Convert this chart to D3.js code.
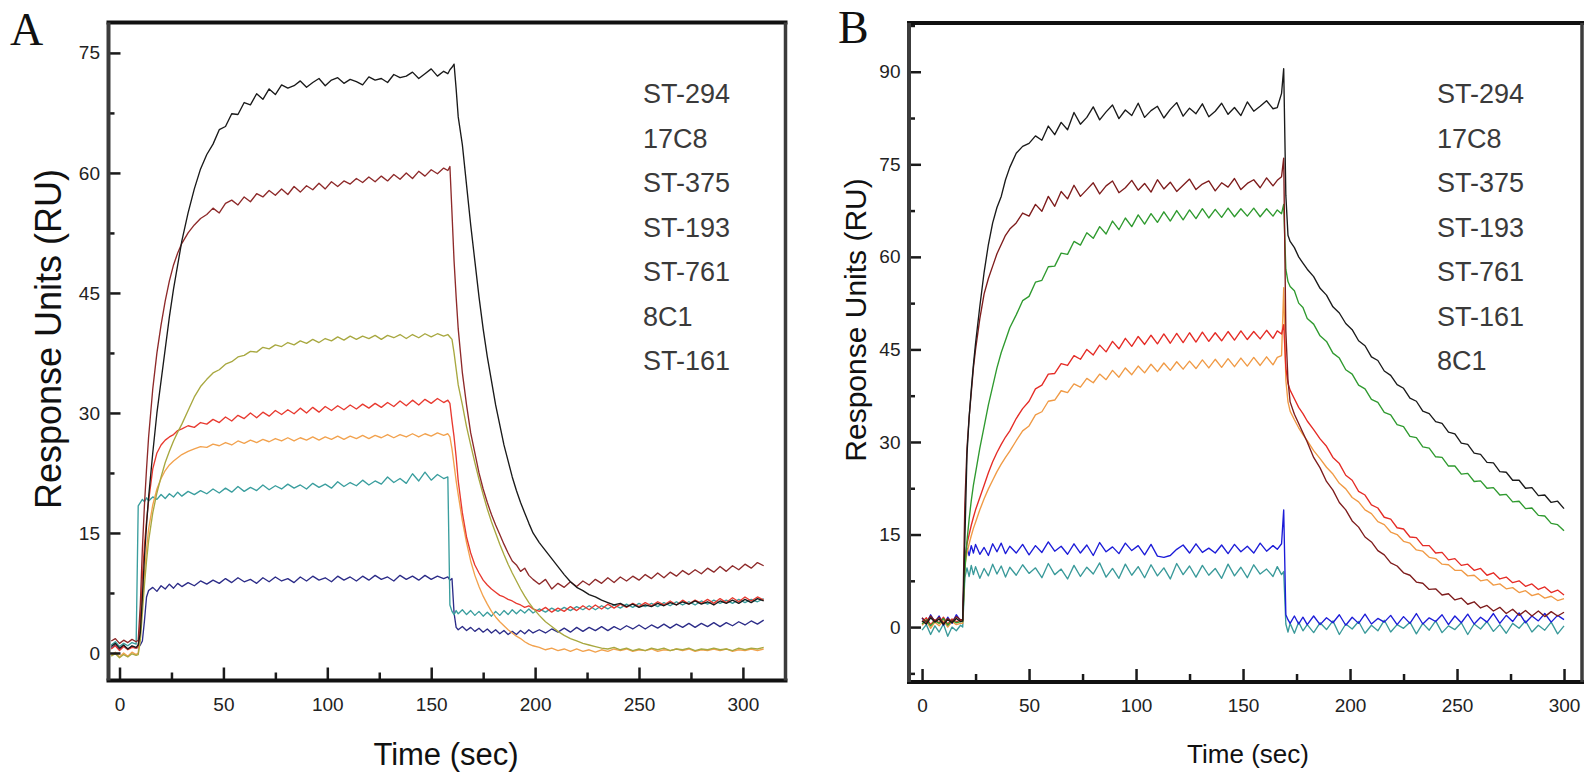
<!DOCTYPE html>
<html>
<head>
<meta charset="utf-8">
<script src="https://cdn.jsdelivr.net/npm/d3@7"></script>
<style>
body{margin:0;background:#fff;}
svg text{font-family:"Liberation Sans",Arial,sans-serif;}
</style>
</head>
<body>
<svg id="fig" width="1584" height="772"></svg>
<script>
// ---- panel A : sensorgram values ----
var timeA = [-4,-2,0,2,4,6,8,
  9,10,11,12,13,14,16,18,20,22,24,26,28,30,33,36,39,
  42,45,48,51,54,57,60,63,66,69,72,75,78,81,84,87,90,93,96,99,102,105,108,111,114,117,120,123,126,129,132,135,138,141,144,147,150,153,156,
  158,159,160,161,162,163,165,167,169,171,173,175,177,179,181,183,185,187,189,191,193,195,197,199,
  202,205,208,211,214,217,220,223,226,229,232,235,238,241,244,247,250,253,256,259,262,265,268,271,274,277,280,283,286,289,292,295,298,301,304,307,310];

var st294A = [0.8,1.2,0.6,1.0,0.5,0.9,0.7,
  1.0,2.5,7,12,16,19.5,25,30,34,38,42,45.5,48.5,51.5,55,58,60.5,
  62.3,63.6,65.4,65.8,67.4,67.3,68.8,68.5,69.9,69.2,70.5,69.8,71.0,70.6,70.9,71.5,70.7,71.3,71.8,70.9,71.6,71.9,71.2,71.7,71.4,71.0,72.0,71.6,71.8,71.3,72.3,71.9,72.1,72.6,71.8,72.4,73.0,72.1,72.7,
  72.4,72.9,73.2,73.6,70.5,67,63.5,58.5,53.5,49,44.5,40.5,37,34,31,28.5,26,24,22,20.3,18.8,17.5,16.2,15,
  13.8,12.8,11.8,10.8,9.8,8.9,8.2,7.8,7.3,7.0,6.6,6.3,6.0,6.2,5.8,6.1,5.7,6.0,5.8,6.2,5.9,6.3,6.0,6.4,6.1,6.5,6.1,6.4,6.0,6.5,6.2,6.6,6.2,6.7,6.3,6.8,6.5];

var c17c8A = [1.5,1.8,1.2,1.6,1.3,1.7,1.4,
  1.6,6,13,18.5,23,27,33,37.5,41,44,46.5,48.5,50,51.2,52.5,53.5,54.3,
  54.8,55.6,55.0,56.2,56.6,56.0,57.0,56.4,57.4,57.0,57.8,57.2,58.0,57.3,58.3,57.6,58.4,57.9,58.7,58.0,58.9,58.3,59.0,58.6,59.3,58.8,59.5,58.9,59.6,59.0,59.8,59.2,60.0,59.3,60.2,59.6,60.4,59.9,60.6,
  60.3,60.8,55,49,44.5,40.5,35,31,27.5,25,22.5,20.5,18.8,17.3,16,14.8,13.6,12.5,11.5,11.0,10.2,10.6,9.7,9.2,
  8.6,9.2,8.0,8.7,8.2,8.9,8.3,9.0,8.5,9.2,8.7,9.4,8.8,9.5,9.0,9.6,9.1,9.8,9.3,10.0,9.4,10.1,9.6,10.3,9.8,10.4,9.9,10.6,10.1,10.8,10.2,10.9,10.4,11.1,10.6,11.3,10.9];

var st375A = [-0.4,-0.1,-0.6,-0.2,-0.5,-0.1,-0.3,
  -0.2,1.5,5,8.5,11.5,14,17.5,20,22,23.8,25.2,26.5,27.6,28.6,30.3,32,33.3,
  34.2,35.0,35.4,36.1,36.4,37.0,37.2,37.7,37.6,38.2,38.0,38.5,38.3,38.8,38.5,39.0,38.7,39.2,38.8,39.3,39.0,39.5,39.1,39.6,39.2,39.6,39.3,39.7,39.2,39.7,39.4,39.8,39.3,39.8,39.4,39.9,39.5,39.9,39.6,
  39.8,39.5,39.2,37.5,35.5,33.5,31,28.3,26,23.8,21.7,19.8,18,16.4,15,13.6,12.3,11.1,10,9,8,7.1,6.3,5.6,
  4.7,3.9,3.3,2.7,2.2,1.8,1.5,1.2,1.0,0.8,0.6,0.5,0.7,0.4,0.6,0.3,0.5,0.3,0.6,0.4,0.6,0.3,0.5,0.4,0.6,0.3,0.5,0.4,0.6,0.4,0.5,0.3,0.6,0.4,0.6,0.5,0.7];

var st193A = [0.5,0.9,0.3,0.8,0.4,0.7,0.6,
  0.8,4,9.5,13.5,16.5,19,23,25,26,26.6,27,27.3,27.8,28.0,28.4,28.2,28.8,
  28.6,29.2,28.8,29.5,29.0,29.7,29.3,30.0,29.4,30.1,29.6,30.3,29.8,30.4,29.9,30.6,30.0,30.7,30.1,30.8,30.3,30.9,30.4,31.0,30.5,31.1,30.6,31.2,30.7,31.3,30.8,31.5,30.9,31.6,31.0,31.7,31.2,31.8,31.3,
  31.6,31.2,29,27,24.5,21.5,17.5,14.5,12.5,11,10,9.1,8.5,8.0,7.6,7.2,7.0,6.7,6.5,6.2,6.0,5.7,5.9,5.5,
  5.2,5.7,5.1,5.6,5.2,5.8,5.3,5.9,5.4,6.0,5.5,6.1,5.6,6.1,5.7,6.2,5.8,6.3,5.9,6.4,6.0,6.5,6.0,6.6,6.1,6.6,6.2,6.7,6.2,6.8,6.3,6.9,6.4,7.0,6.5,7.0,6.6];

var st761A = [-0.3,0.1,-0.5,0.0,-0.4,0.1,-0.2,
  0.0,2.5,6.5,10,13,15.5,18.5,20.5,21.8,22.8,23.5,24.0,24.4,24.8,25.2,25.5,25.8,
  25.7,26.1,25.9,26.3,26.0,26.5,26.2,26.6,26.3,26.7,26.4,26.8,26.5,26.9,26.5,26.9,26.6,27.0,26.6,27.0,26.7,27.1,26.7,27.1,26.8,27.2,26.8,27.2,26.9,27.3,26.9,27.3,27.0,27.4,27.0,27.4,27.1,27.5,27.2,
  27.4,27.0,25.5,23.5,21.5,19.8,16.5,13.8,11.5,9.7,8.3,7.1,6.1,5.2,4.5,3.9,3.4,2.9,2.5,2.1,1.8,1.4,1.1,0.9,
  0.7,0.4,0.6,0.3,0.5,0.2,0.5,0.2,0.4,0.1,0.4,0.2,0.5,0.3,0.5,0.2,0.4,0.3,0.5,0.2,0.4,0.3,0.5,0.3,0.5,0.2,0.4,0.3,0.5,0.3,0.5,0.2,0.4,0.3,0.5,0.3,0.5];

var c8c1A = [1.0,1.4,0.8,1.2,0.9,1.3,1.1,
  18.4,18.8,19.2,18.9,19.4,19.0,19.5,19.2,19.8,19.3,19.9,19.5,20.1,19.6,20.2,19.8,20.3,
  19.9,20.5,20.0,20.6,20.1,20.8,20.2,20.7,20.3,21.0,20.4,20.9,20.5,21.1,20.6,21.0,20.5,21.2,20.7,21.1,20.6,21.4,20.8,21.3,20.9,21.6,21.0,21.5,21.1,22.0,21.3,21.8,21.2,22.4,21.5,22.6,21.6,22.3,21.8,
  22.0,6,5.2,4.8,5.3,4.9,5.4,4.8,5.3,4.7,5.2,4.6,5.1,4.6,5.2,4.7,5.3,4.8,5.4,4.9,5.4,5.0,5.5,5.0,
  5.5,5.1,5.6,5.2,5.7,5.3,5.8,5.4,5.9,5.4,5.9,5.5,6.0,5.6,6.1,5.7,6.2,5.8,6.2,5.8,6.3,5.9,6.4,6.0,6.4,6.0,6.5,6.1,6.6,6.2,6.6,6.2,6.7,6.3,6.7,6.4,6.8];

var st161A = [0.6,1.0,0.4,0.9,0.5,0.8,0.6,
  0.7,1.0,1.5,4,7,7.8,8.2,7.7,8.4,8.0,8.6,8.1,8.7,8.3,8.8,8.4,9.0,
  8.6,9.1,8.7,9.3,8.8,9.4,8.9,9.2,8.7,9.4,8.9,9.5,9.0,9.3,8.8,9.5,9.0,9.6,9.1,9.4,8.9,9.6,9.1,9.5,9.0,9.6,9.1,9.7,9.2,9.5,9.0,9.7,9.2,9.6,9.1,9.7,9.2,9.6,9.3,
  9.5,9.1,9.3,5,3.2,2.9,3.3,2.8,3.2,2.7,3.1,2.6,3.0,2.5,2.9,2.4,2.8,2.3,2.7,2.3,2.8,2.4,2.9,2.5,
  2.9,2.5,3.0,2.6,3.1,2.6,3.2,2.7,3.2,2.8,3.3,2.8,3.3,2.9,3.4,3.0,3.5,3.0,3.5,3.1,3.6,3.1,3.6,3.2,3.7,3.2,3.7,3.3,3.8,3.3,3.8,3.4,3.9,3.5,4.0,3.6,4.1];

// ---- panel B ----
var timeB = [0,2,4,6,8,10,12,14,16,18,
  19,20,21,22,23,24,25,27,29,31,33,35,37,39,41,
  44,47,50,53,56,59,62,65,68,71,74,77,80,83,86,89,92,95,98,101,104,107,110,113,116,119,122,125,128,131,134,137,140,143,146,149,152,155,158,161,164,
  166,168,169,170,171,172,174,176,178,180,
  183,186,189,192,195,198,201,204,207,210,213,216,219,222,225,228,231,234,237,240,243,246,249,252,255,258,261,264,267,270,273,276,279,282,285,288,291,294,297,300];

var st294B = [1.0,0.5,1.5,0.8,1.3,0.4,1.2,0.7,1.4,0.9,
  1.0,14,28,34,38.5,42.5,46,52,57.5,62,65.5,68,69.8,72.5,74.5,
  76.8,77.9,78.4,79.6,78.9,81.2,79.8,81.8,80.6,83.4,81.5,82.6,84.3,82.2,83.5,84.6,82.4,83.8,82.9,84.9,82.6,83.7,84.4,82.5,83.9,85.0,82.8,84.1,83.2,84.8,82.7,83.6,84.9,83.1,84.2,82.9,85.1,83.6,84.4,85.3,84.0,
  84.2,86.5,90.5,70,63.5,62.5,61.5,60,59,58,
  56.8,54.9,53.8,51.9,50.9,49.2,48.2,46.4,45.6,43.8,43.2,41.5,40.8,39.3,38.7,37.1,36.6,35.0,34.6,33.3,33.0,31.6,31.3,29.8,29.6,28.2,28.0,26.7,26.6,25.2,25.1,23.8,23.8,22.5,22.6,21.3,21.4,20.2,20.4,19.2];

var c17c8B = [1.5,0.8,1.8,1.0,1.6,0.6,1.4,0.9,1.7,1.2,
  1.2,20,29,34,38,42,45,50,54,56.5,58.5,60.5,62,63.5,64.5,
  65.5,67.1,66.6,68.5,67.4,69.8,68.2,70.6,69.4,71.6,69.8,70.9,72.0,70.2,71.5,72.3,70.4,71.2,72.4,70.8,71.9,70.5,72.5,71.0,72.1,70.6,71.6,72.6,70.9,71.8,72.3,70.7,72.0,71.3,72.7,70.9,71.9,72.5,71.2,72.8,71.5,
  72.4,73,76,48,40,36.5,34.5,33,31.5,30,
  27.5,25.8,23.6,22.2,20.2,19.0,17.2,16.2,14.6,13.8,12.4,11.7,10.4,9.9,8.8,8.4,7.3,7.1,6.1,6.2,5.2,5.4,4.4,4.7,3.7,4.1,3.1,3.5,2.6,3.2,2.2,2.9,1.9,2.7,1.8,2.6,1.7,2.5,1.8,2.4];

var st375B = [0.5,1.2,0.2,1.0,0.6,1.4,0.3,1.1,0.7,0.9,
  0.9,9,14,17.5,20.5,23,25,29,32.5,36,39,42,44.5,46.5,48.5,
  50.6,52.9,53.6,55.9,56.2,58.4,58.5,60.6,60.4,62.5,61.9,63.9,63.0,64.9,63.7,65.8,64.4,66.3,64.9,66.8,65.3,67.0,65.6,67.3,65.8,67.5,66.0,67.6,66.2,67.8,66.3,67.7,66.4,67.9,66.5,67.8,66.6,67.9,66.5,67.8,66.6,
  67.6,67.0,68.5,58,56,55.2,54.5,52.5,51.8,50.0,
  49.1,47.2,46.3,44.4,43.6,41.7,41.0,39.2,38.6,36.9,36.4,34.8,34.4,32.8,32.5,30.9,30.7,29.2,29.0,27.6,27.5,26.1,26.1,24.8,24.9,23.6,23.7,22.5,22.6,21.4,21.5,20.3,20.4,19.2,19.3,18.1,18.0,16.8,16.6,15.6];

var st193B = [0.8,1.5,0.4,1.2,0.7,1.6,0.5,1.3,0.9,1.1,
  1.1,11,13.5,15,16.5,17.8,19,21,23,25,26.8,28.3,29.6,30.8,31.8,
  33.8,35.4,36.6,38.6,39.2,41.0,41.1,42.7,42.4,44.0,43.4,45.0,44.1,45.7,44.6,46.3,45.1,46.8,45.5,47.1,45.8,47.3,45.9,47.5,46.0,47.6,46.1,47.7,46.2,47.8,46.3,47.7,46.4,47.9,46.5,48.0,46.6,47.9,46.7,48.1,46.8,
  48.0,47.5,49,42,39.5,38.4,37,35.6,34.6,33.4,
  32.0,30.5,29.3,27.5,26.5,24.6,23.8,22.0,21.4,19.8,19.3,17.8,17.5,16.1,15.9,14.6,14.5,13.2,13.2,12.0,12.1,10.9,11.1,10.0,10.2,9.2,9.5,8.4,8.8,7.8,8.1,7.2,7.5,6.6,7.0,6.1,6.5,5.6,6.0,5.2];

var st761B = [0.3,1.0,-0.2,0.8,0.2,1.1,0.0,0.9,0.4,0.6,
  0.6,10,12,13.5,14.8,16,17,19,20.8,22.4,23.8,25.2,26.4,27.5,28.5,
  30.2,31.8,32.6,34.4,34.9,36.6,36.8,38.3,38.0,39.4,38.9,40.3,39.6,41.0,40.1,41.6,40.5,42.0,40.9,42.3,41.2,42.6,41.4,42.8,41.6,43.0,41.8,43.1,41.9,43.3,42.0,43.4,42.1,43.5,42.2,43.6,42.3,43.7,42.4,43.8,42.5,
  43.7,44,55,40,36.5,35.0,33.6,32.3,31.2,30.2,
  28.6,27.3,25.9,24.8,23.3,22.4,21.0,20.3,19.0,18.4,17.1,16.6,15.4,15.0,13.9,13.6,12.5,12.3,11.3,11.1,10.2,10.1,9.2,9.2,8.3,8.4,7.5,7.7,6.8,7.0,6.2,6.4,5.6,5.9,5.1,5.4,4.7,5.0,4.3,4.6];

var st161B = [1.5,0.5,2.0,0.8,1.8,0.3,1.6,0.6,2.0,1.0,
  1.2,11.5,12.8,11.6,13.2,12.0,13.4,11.8,12.9,11.6,13.5,12.2,13.6,11.9,13.1,
  12.0,13.4,11.7,13.2,12.1,13.8,12.3,13.1,11.8,13.5,12.0,13.3,11.6,13.7,12.2,13.0,11.9,13.6,12.4,13.2,11.7,13.4,11.5,11.3,11.6,12.6,13.3,12.0,13.5,12.1,12.8,12.0,13.3,11.9,13.4,12.2,13.1,12.0,13.6,12.3,13.2,
  12.6,13.5,19,2,1.2,0.6,1.8,0.5,1.6,0.4,
  1.8,0.4,1.5,0.7,2.0,0.3,1.6,0.6,2.1,0.5,1.4,0.8,1.9,0.4,1.7,0.6,2.2,0.5,1.5,0.9,2.0,0.4,1.8,0.7,2.1,0.5,1.6,0.8,2.2,0.6,1.9,0.9,2.3,0.7,1.8,1.0,2.2,0.8,1.9,1.2];

var c8c1B = [-0.5,0.4,-1.2,0.2,-0.8,0.5,-1.5,0.0,-0.6,0.3,
  0.0,8.0,9.6,8.2,10.0,8.5,9.8,7.9,9.5,8.3,10.2,8.6,9.9,8.1,9.7,
  8.4,10.1,8.7,9.6,8.0,10.3,8.5,9.4,7.8,10.0,8.2,9.7,8.6,10.4,8.1,9.5,7.9,10.2,8.4,9.8,8.0,10.1,8.3,9.6,7.8,10.3,8.5,9.9,8.1,10.0,8.4,9.5,7.9,10.2,8.3,9.7,8.0,10.1,8.6,9.4,8.2,
  9.8,8.5,9.0,0.5,-0.8,0.6,-1.0,0.8,-0.6,0.4,
  -0.9,0.7,-0.4,1.0,-1.2,0.5,-0.3,0.9,-1.0,0.3,-0.6,1.1,-0.8,0.4,-0.2,0.8,-1.1,0.6,-0.5,1.0,-0.9,0.2,-0.4,0.7,-1.2,0.5,-0.3,0.9,-0.7,0.4,-1.0,0.6,-0.2,1.0,-0.8,0.3,-0.5,0.8,-1.1,0.2];

var legendA = ['ST-294','17C8','ST-375','ST-193','ST-761','8C1','ST-161'];
var legendB = ['ST-294','17C8','ST-375','ST-193','ST-761','ST-161','8C1'];

var yMajorA = [0,15,30,45,60,75];
var yMinorA = [7.5,22.5,37.5,52.5,67.5];
var yMajorB = [0,15,30,45,60,75,90];
var yMinorB = [-7.5,7.5,22.5,37.5,52.5,67.5,82.5,97.5];
var xMajor = [0,50,100,150,200,250,300];
var xMinor = [25,75,125,175,225,275];

var panels = [
  {
    id: 'A', left: 108.5, right: 785.5, top: 22.5, bottom: 680.5,
    xDomain: [-5.3, 320.5], yDomain: [-3.44, 78.8],
    time: timeA, yMajor: yMajorA, yMinor: yMinorA, legend: legendA, legendX: 643,
    yLabel: {x: 61, y: 339, size: 36}, xLabel: {x: 446, y: 765, size: 31},
    letter: {x: 10, y: 45},
    series: [
      {v: st161A, color: '#2c2c88'},
      {v: c8c1A, color: '#3a9e9e'},
      {v: st761A, color: '#f2a24e'},
      {v: st193A, color: '#e83a30'},
      {v: st375A, color: '#a8a840'},
      {v: c17c8A, color: '#8e2a2a'},
      {v: st294A, color: '#1a1a1a'}
    ]
  },
  {
    id: 'B', left: 909, right: 1582, top: 23, bottom: 682,
    xDomain: [-6.1, 308.4], yDomain: [-8.9, 97.9],
    time: timeB, yMajor: yMajorB, yMinor: yMinorB, legend: legendB, legendX: 1437,
    yLabel: {x: 866, y: 320, size: 30}, xLabel: {x: 1248, y: 763, size: 26},
    letter: {x: 838, y: 43},
    series: [
      {v: c8c1B, color: '#3a9a9a'},
      {v: st161B, color: '#1c1cd8'},
      {v: st761B, color: '#f09a45'},
      {v: st193B, color: '#e52b25'},
      {v: st375B, color: '#2f9a2f'},
      {v: c17c8B, color: '#7e1c1c'},
      {v: st294B, color: '#1a1a1a'}
    ]
  }
];

var svg = d3.select('#fig');

panels.forEach(function(p){
  var x = d3.scaleLinear().domain(p.xDomain).range([p.left, p.right]);
  var y = d3.scaleLinear().domain(p.yDomain).range([p.bottom, p.top]);

  svg.append('clipPath').attr('id', 'clip' + p.id)
    .append('rect')
    .attr('x', p.left).attr('y', p.top)
    .attr('width', p.right - p.left).attr('height', p.bottom - p.top);

  var line = d3.line()
    .x(function(d){ return x(d[0]); })
    .y(function(d){ return y(d[1]); });

  var g = svg.append('g').attr('clip-path', 'url(#clip' + p.id + ')');
  p.series.forEach(function(s){
    g.append('path')
      .datum(p.time.map(function(t, i){ return [t, s.v[i]]; }))
      .attr('d', line)
      .attr('fill', 'none')
      .attr('stroke', s.color)
      .attr('stroke-width', 1.35)
      .attr('stroke-linejoin', 'round');
  });

  // ticks point inward
  svg.append('g').attr('transform', 'translate(' + p.left + ',0)')
    .call(d3.axisLeft(y).tickValues(p.yMajor).tickSizeInner(-12).tickSizeOuter(0).tickPadding(8.5));
  svg.append('g').attr('transform', 'translate(' + p.left + ',0)')
    .call(d3.axisLeft(y).tickValues(p.yMinor).tickFormat('').tickSizeInner(-6).tickSizeOuter(0));
  svg.append('g').attr('transform', 'translate(0,' + p.bottom + ')')
    .call(d3.axisBottom(x).tickValues(xMajor).tickSizeInner(-13).tickSizeOuter(0).tickPadding(17));
  svg.append('g').attr('transform', 'translate(0,' + p.bottom + ')')
    .call(d3.axisBottom(x).tickValues(xMinor).tickFormat('').tickSizeInner(-8).tickSizeOuter(0));

  svg.selectAll('.domain').remove();
  svg.selectAll('.tick line').attr('stroke', '#1a1a1a').attr('stroke-width', 2.5);
  svg.selectAll('.tick text').attr('font-size', 19).attr('fill', '#222')
    .attr('font-family', '"Liberation Sans",Arial,sans-serif');

  // frame
  svg.append('line').attr('x1', p.left - 2).attr('x2', p.right + 2).attr('y1', p.top).attr('y2', p.top)
    .attr('stroke', '#111').attr('stroke-width', 4);
  svg.append('line').attr('x1', p.left - 2).attr('x2', p.right + 2).attr('y1', p.bottom).attr('y2', p.bottom)
    .attr('stroke', '#111').attr('stroke-width', 4);
  svg.append('line').attr('x1', p.left).attr('x2', p.left).attr('y1', p.top).attr('y2', p.bottom)
    .attr('stroke', '#3c3c3c').attr('stroke-width', 4);
  svg.append('line').attr('x1', p.right).attr('x2', p.right).attr('y1', p.top).attr('y2', p.bottom)
    .attr('stroke', '#3c3c3c').attr('stroke-width', 3.5);

  svg.selectAll('.legend' + p.id)
    .data(p.legend)
    .enter().append('text')
    .attr('x', p.legendX)
    .attr('y', function(d, i){ return 103 + i * 44.5; })
    .attr('font-size', 27)
    .attr('fill', '#3a3a3a')
    .text(function(d){ return d; });

  svg.append('text')
    .attr('transform', 'translate(' + p.yLabel.x + ',' + p.yLabel.y + ')rotate(-90)')
    .attr('text-anchor', 'middle')
    .attr('font-size', p.yLabel.size)
    .attr('fill', '#111')
    .text('Response Units (RU)');

  svg.append('text')
    .attr('x', p.xLabel.x).attr('y', p.xLabel.y)
    .attr('text-anchor', 'middle')
    .attr('font-size', p.xLabel.size)
    .attr('fill', '#111')
    .text('Time (sec)');

  svg.append('text')
    .attr('x', p.letter.x).attr('y', p.letter.y)
    .attr('font-size', 46)
    .attr('fill', '#111')
    .style('font-family', '"Liberation Serif","Times New Roman",serif')
    .text(p.id);
});
</script>
</body>
</html>
